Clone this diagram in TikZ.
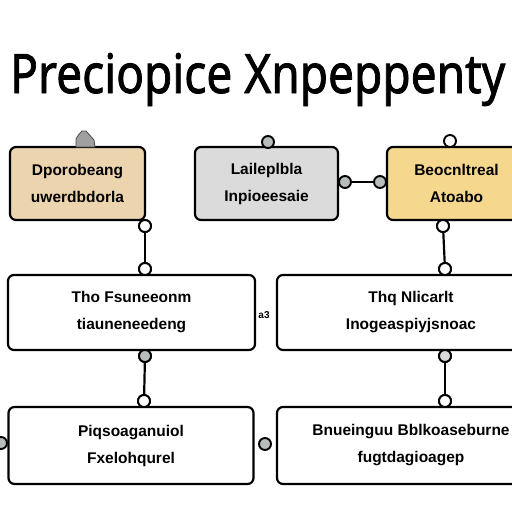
\documentclass[tikz,border=0pt]{standalone}
\usepackage{fontspec}
\setmainfont{Liberation Sans}
\newfontfamily\titlefont[FakeBold=1.6]{Noto Sans}
\definecolor{tanfill}{RGB}{236,213,174}
\definecolor{grayfill}{RGB}{219,219,219}
\definecolor{yelfill}{RGB}{245,216,142}
\definecolor{dotgray}{RGB}{185,188,188}
\definecolor{blobgray}{RGB}{160,160,160}
\begin{document}
\begin{tikzpicture}[x=1pt,y=-1pt,
  box/.style={draw, line width=2.2pt, rounded corners=6pt, inner sep=0pt, align=center,
    font=\bfseries\fontsize{15.5}{27}\selectfont},
  ring/.style={circle, draw, line width=1.9pt, fill=white, minimum size=12pt, inner sep=0pt},
  graydot/.style={ring, fill=dotgray},
  link/.style={line width=2.2pt}]
\useasboundingbox (0,0) rectangle (512,512);
\clip (0,0) rectangle (512,512);
\fill[white] (0,0) rectangle (512,512);
% title
\node[anchor=base west, inner sep=0pt] (title) at (10,93)
  {\resizebox{495pt}{40pt}{\titlefont Preciopice Xnpeppenty}};
% top row
\node[box, fill=tanfill, minimum width=135pt, minimum height=73pt] (b1) at (77.5,183.5)
  {Dporobeang\\uwerdbdorla};
\node[box, fill=grayfill, minimum width=143pt, minimum height=73pt] (b2) at (266.5,183.5)
  {Laileplbla\\Inpioeesaie};
\node[box, fill=yelfill, minimum width=139pt, minimum height=73pt] (b3) at (456.5,183.5)
  {Beocnltreal\\Atoabo};
% middle row
\node[box, fill=white, minimum width=247pt, minimum height=75pt] (b4) at (131.5,312.5)
  {Tho Fsuneeonm\\tiauneneedeng};
\node[box, fill=white, minimum width=268pt, minimum height=75pt] (b5) at (411,312.5)
  {Thq Nlicarlt\\Inogeaspiyjsnoac};
% bottom row
\node[box, fill=white, minimum width=245pt, minimum height=77pt] (b6) at (131,445.5)
  {Piqsoaganuiol\\Fxelohqurel};
\node[box, fill=white, minimum width=268pt, minimum height=77pt] (b7) at (411,445.5)
  {Bnueinguu Bblkoaseburne\\fugtdagioagep};
% blob on top of box 1
\filldraw[fill=blobgray, draw=black!70, line width=0.8pt]
  (76,147) -- (76,139) .. controls (79,134) .. (82,131) -- (86,131)
  .. controls (90,135) .. (94,140) -- (95,147) -- cycle;
% connector circles
\node[ring] (c1b) at (145,226) {};
\node[ring] (c4t) at (145,269) {};
\node[graydot] (c4b) at (145,356) {};
\node[ring] (c6t) at (144,401) {};
\node[ring] (c3b) at (443,226) {};
\node[ring] (c5t) at (445,269) {};
\node[graydot, fill=grayfill] (c5b) at (445,356) {};
\node[ring] (c7t) at (445,401) {};
\node[graydot] (c2r) at (345,182) {};
\node[graydot] (c3l) at (380,182) {};
\node[graydot] (c2t) at (268,142) {};
\node[ring] (c3t) at (450,141) {};
\node[graydot] (c6l) at (1,443) {};
\node[graydot] (c67) at (265,444) {};
\node[font=\bfseries\fontsize{10}{10}\selectfont, inner sep=0pt] (mid) at (264,315) {a3};
% links
\draw[link] (c1b) -- (c4t);
\draw[link] (c4b) -- (c6t);
\draw[link] (c3b) -- (c5t);
\draw[link] (c5b) -- (c7t);
\draw[link] (c2r) -- (c3l);
% redraw circles on top of links
\node[ring] at (c1b) {};
\node[ring] at (c4t) {};
\node[graydot] at (c4b) {};
\node[ring] at (c6t) {};
\node[ring] at (c3b) {};
\node[ring] at (c5t) {};
\node[graydot, fill=grayfill] at (c5b) {};
\node[ring] at (c7t) {};
\end{tikzpicture}
\end{document}
